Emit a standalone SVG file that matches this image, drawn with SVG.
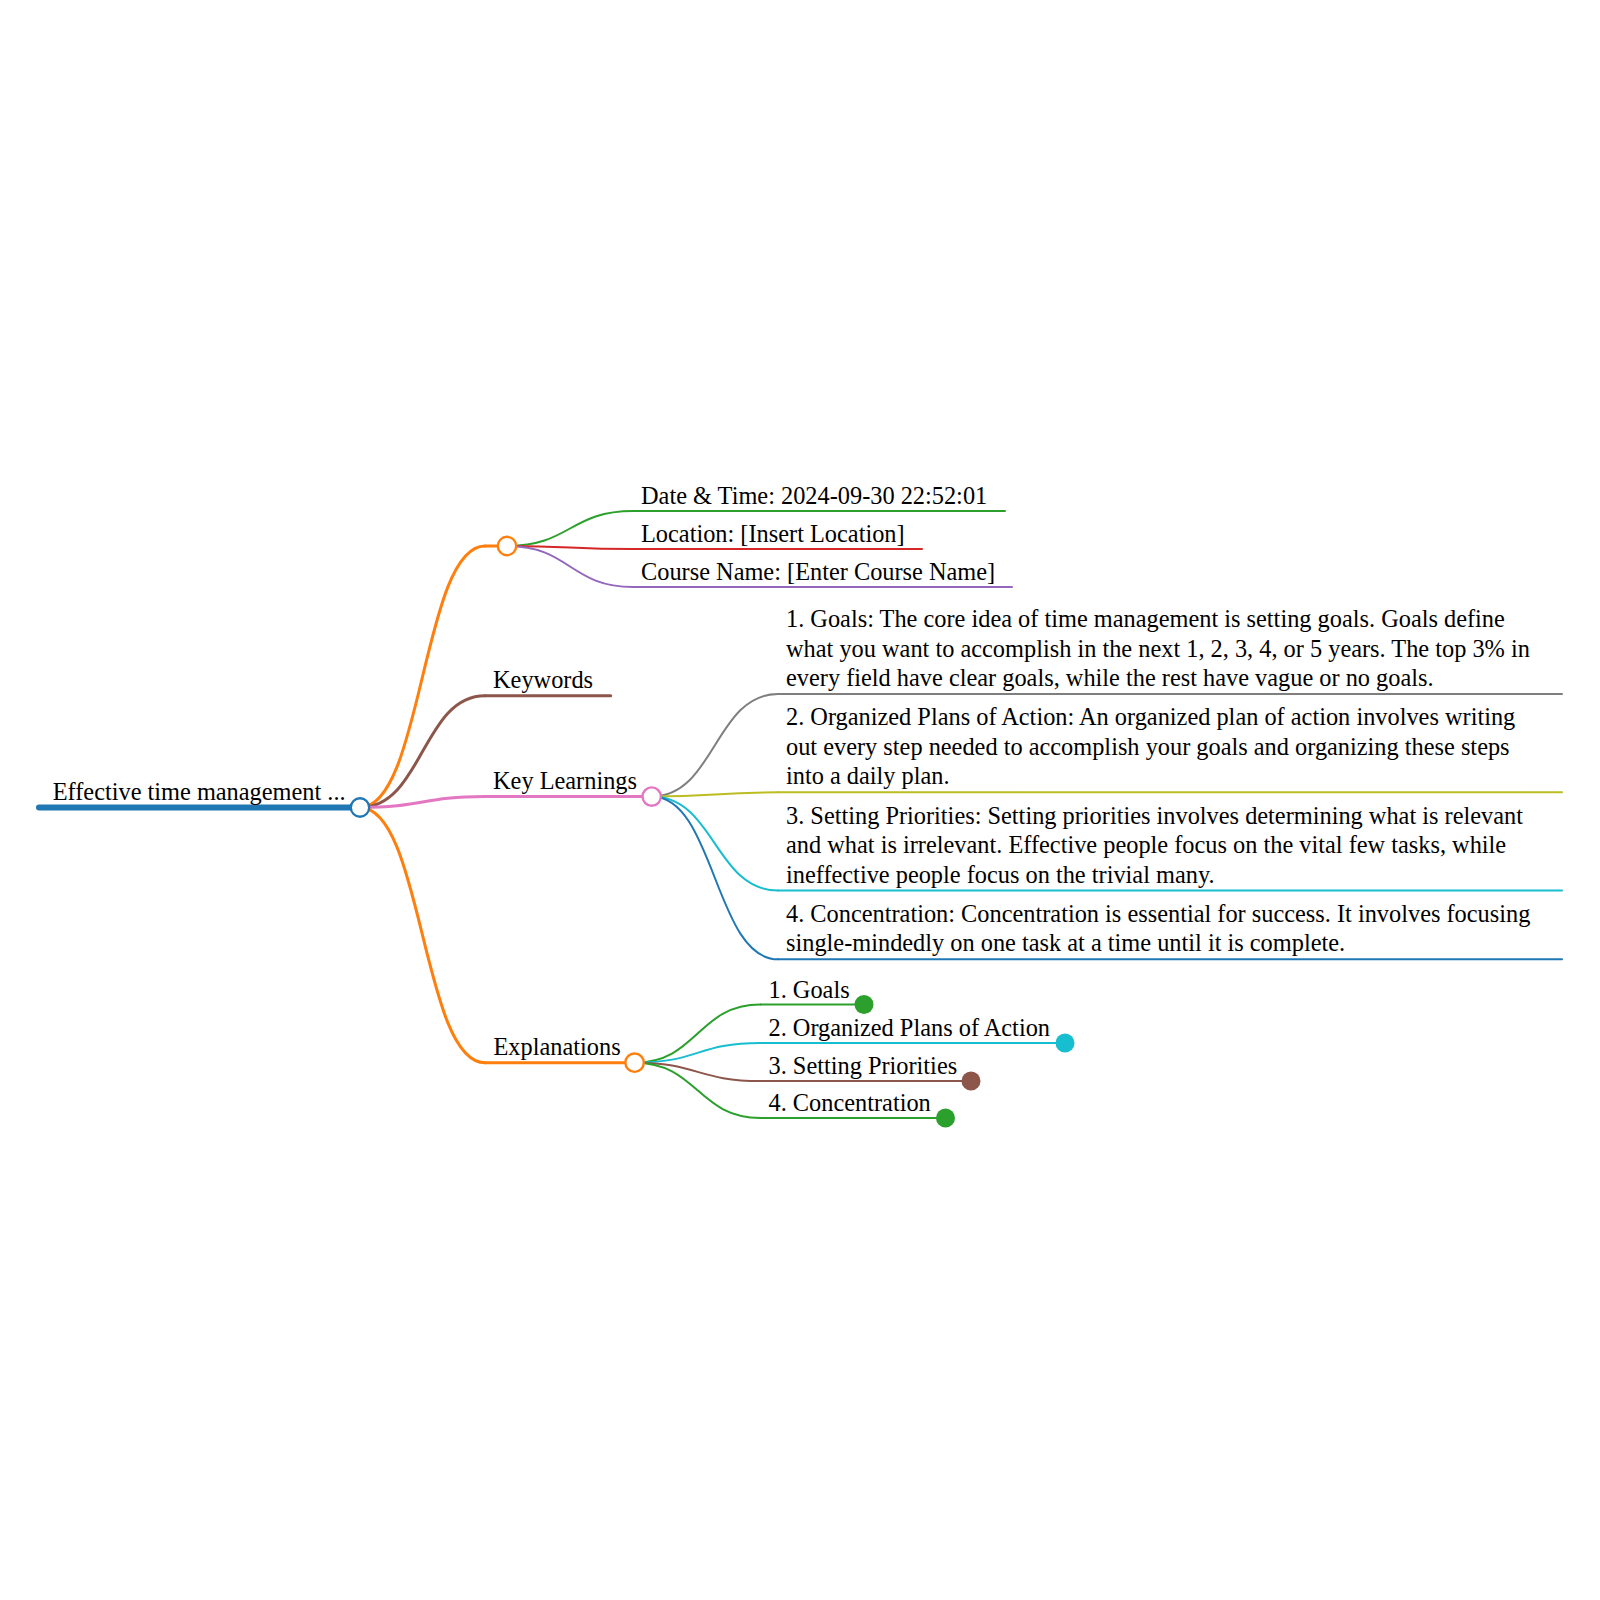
<svg xmlns="http://www.w3.org/2000/svg" width="1600" height="1600" viewBox="0 0 1600 1600">
<style>
text{font-family:"Liberation Serif","Times New Roman",serif;font-size:24.35px;fill:#000}
.l{fill:none;stroke-linecap:round}
.d1{stroke-width:3}
.d2{stroke-width:2}
.c{fill:#fff;stroke-width:2.4}
</style>
<rect width="1600" height="1600" fill="#fff"/>
<g id="connectors" class="l">
<path class="d1" stroke="#ff7f0e" d="M360 807.5C422.5 807.5 422.5 546 485 546"/>
<path class="d1" stroke="#8c564b" d="M360 807.5C422.5 807.5 422.5 695.7 485 695.7"/>
<path class="d1" stroke="#e377c2" d="M360 807.5C422.5 807.5 422.5 796.6 485 796.6"/>
<path class="d1" stroke="#ff7f0e" d="M360 807.5C422.5 807.5 422.5 1062.7 485 1062.7"/>
<path class="d2" stroke="#2ca02c" d="M507 546C570 546 570 511 633 511"/>
<path class="d2" stroke="#d62728" d="M507 546C570 546 570 549 633 549"/>
<path class="d2" stroke="#9467bd" d="M507 546C570 546 570 587 633 587"/>
<path class="d2" stroke="#7f7f7f" d="M651.7 796.6C714.9 796.6 714.9 694 778 694"/>
<path class="d2" stroke="#bcbd22" d="M651.7 796.6C714.9 796.6 714.9 792.3 778 792.3"/>
<path class="d2" stroke="#17becf" d="M651.7 796.6C714.9 796.6 714.9 890.5 778 890.5"/>
<path class="d2" stroke="#1f77b4" d="M651.7 796.6C714.9 796.6 714.9 959.3 778 959.3"/>
<path class="d2" stroke="#2ca02c" d="M634.6 1062.7C697.6 1062.7 697.6 1004.5 760.5 1004.5"/>
<path class="d2" stroke="#17becf" d="M634.6 1062.7C697.6 1062.7 697.6 1043 760.5 1043"/>
<path class="d2" stroke="#8c564b" d="M634.6 1062.7C697.6 1062.7 697.6 1081 760.5 1081"/>
<path class="d2" stroke="#2ca02c" d="M634.6 1062.7C697.6 1062.7 697.6 1118 760.5 1118"/>
</g>
<g id="root">
<path class="l" stroke="#1f77b4" stroke-width="6" d="M39 807.5H360"/>
<text x="52.7" y="800">Effective time management ...</text>
<circle class="c" stroke="#1f77b4" cx="360" cy="807.5" r="9.2"/>
</g>
<g id="info">
<path class="l d1" stroke="#ff7f0e" d="M485 546H507"/>
<circle class="c" stroke="#ff7f0e" cx="507" cy="546" r="9.2"/>
</g>
<g id="date">
<path class="l d2" stroke="#2ca02c" d="M633 511H1005"/>
<text x="641" y="504">Date &amp; Time: 2024-09-30 22:52:01</text>
</g>
<g id="location">
<path class="l d2" stroke="#d62728" d="M633 549H922"/>
<text x="641" y="542">Location: [Insert Location]</text>
</g>
<g id="course">
<path class="l d2" stroke="#9467bd" d="M633 587H1012"/>
<text x="641" y="580">Course Name: [Enter Course Name]</text>
</g>
<g id="keywords">
<path class="l d1" stroke="#8c564b" d="M485 695.7H610.7"/>
<text x="493" y="688">Keywords</text>
</g>
<g id="keylearnings">
<path class="l d1" stroke="#e377c2" d="M485 796.6H651.7"/>
<text x="493" y="789">Key Learnings</text>
<circle class="c" stroke="#e377c2" cx="651.7" cy="796.6" r="9.2"/>
</g>
<g id="kl1">
<path class="l d2" stroke="#7f7f7f" d="M778 694H1562"/>
<text x="786" y="627">1. Goals: The core idea of time management is setting goals. Goals define</text>
<text x="786" y="656.5">what you want to accomplish in the next 1, 2, 3, 4, or 5 years. The top 3% in</text>
<text x="786" y="686">every field have clear goals, while the rest have vague or no goals.</text>
</g>
<g id="kl2">
<path class="l d2" stroke="#bcbd22" d="M778 792.3H1562"/>
<text x="786" y="725.3">2. Organized Plans of Action: An organized plan of action involves writing</text>
<text x="786" y="754.8">out every step needed to accomplish your goals and organizing these steps</text>
<text x="786" y="784.3">into a daily plan.</text>
</g>
<g id="kl3">
<path class="l d2" stroke="#17becf" d="M778 890.5H1562"/>
<text x="786" y="823.5">3. Setting Priorities: Setting priorities involves determining what is relevant</text>
<text x="786" y="853">and what is irrelevant. Effective people focus on the vital few tasks, while</text>
<text x="786" y="882.5">ineffective people focus on the trivial many.</text>
</g>
<g id="kl4">
<path class="l d2" stroke="#1f77b4" d="M778 959.3H1562"/>
<text x="786" y="921.8">4. Concentration: Concentration is essential for success. It involves focusing</text>
<text x="786" y="951.3">single-mindedly on one task at a time until it is complete.</text>
</g>
<g id="explanations">
<path class="l d1" stroke="#ff7f0e" d="M485 1062.7H634.6"/>
<text x="493.5" y="1055">Explanations</text>
<circle class="c" stroke="#ff7f0e" cx="634.6" cy="1062.7" r="9.2"/>
</g>
<g id="ex1">
<path class="l d2" stroke="#2ca02c" d="M760.5 1004.5H864"/>
<text x="768.5" y="998">1. Goals</text>
<circle fill="#2ca02c" cx="864" cy="1004.5" r="9.5"/>
</g>
<g id="ex2">
<path class="l d2" stroke="#17becf" d="M760.5 1043H1065"/>
<text x="768.5" y="1036">2. Organized Plans of Action</text>
<circle fill="#17becf" cx="1065" cy="1043" r="9.5"/>
</g>
<g id="ex3">
<path class="l d2" stroke="#8c564b" d="M760.5 1081H971"/>
<text x="768.5" y="1074">3. Setting Priorities</text>
<circle fill="#8c564b" cx="971" cy="1081" r="9.5"/>
</g>
<g id="ex4">
<path class="l d2" stroke="#2ca02c" d="M760.5 1118H945.5"/>
<text x="768.5" y="1111">4. Concentration</text>
<circle fill="#2ca02c" cx="945.5" cy="1118" r="9.5"/>
</g>
</svg>
